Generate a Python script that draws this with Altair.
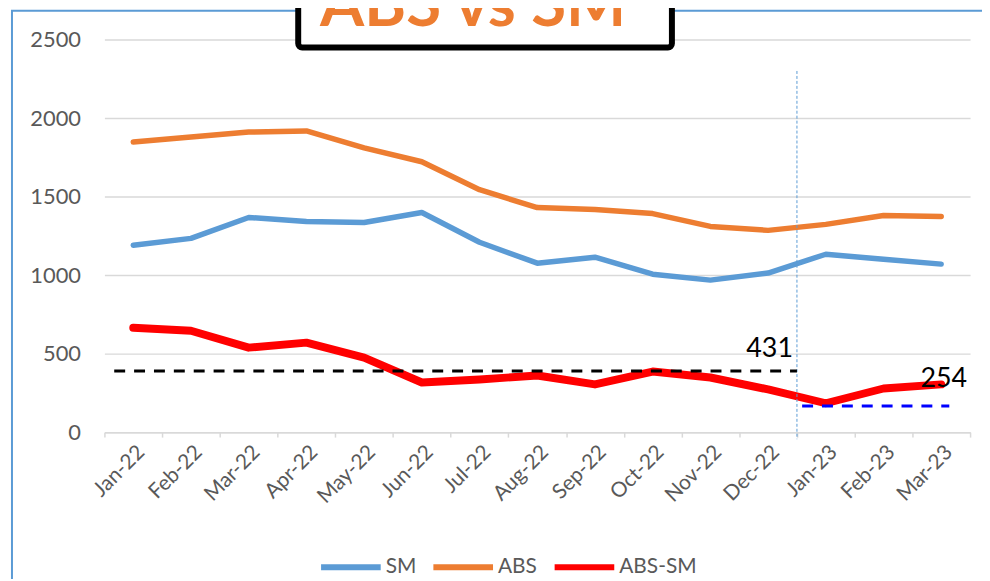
import altair as alt
import pandas as pd

months = ["Jan-22", "Feb-22", "Mar-22", "Apr-22", "May-22", "Jun-22", "Jul-22",
          "Aug-22", "Sep-22", "Oct-22", "Nov-22", "Dec-22", "Jan-23", "Feb-23", "Mar-23"]
sm = [1190, 1234, 1367, 1342, 1335, 1399, 1209, 1076, 1114, 1006, 968, 1013, 1133, 1101, 1070]
abs_ = [1848, 1880, 1911, 1918, 1810, 1722, 1544, 1430, 1418, 1392, 1310, 1285, 1323, 1380, 1373]
diff = [665, 646, 538, 570, 475, 316, 335, 361, 304, 386, 348, 272, 184, 278, 304]
series_names = ["SM", "ABS", "ABS-SM"]
series_colors = ["#5B9BD5", "#ED7D31", "#FF0000"]

avg_2022_label = "431"
avg_2022_level = 390
avg_2023_label = "254"
avg_2023_level = 166

rows = []
for name, vals in zip(series_names, [sm, abs_, diff]):
    for m, v in zip(months, vals):
        rows.append({"month": m, "series": name, "value": v})
df = pd.DataFrame(rows)

FONT = "Lato"
GRAY = "#595959"

xscale = alt.Scale(domain=months, paddingInner=0, paddingOuter=0)
yscale = alt.Scale(domain=[0, 2500])
cscale = alt.Scale(domain=series_names, range=series_colors)

base = alt.Chart(df)

legend = alt.Legend(
    title=None, orient="none", direction="horizontal", legendX=215, legendY=498,
    symbolType="stroke", symbolSize=3600, symbolStrokeWidth=6,
    labelFont=FONT, labelFontSize=21, labelColor=GRAY, labelOffset=2,
    columnPadding=5, padding=0,
)

xaxis = alt.Axis(title=None, labelAngle=315, labelFont=FONT, labelFontSize=21,
                 labelColor=GRAY, tickBand="extent", domainColor="#D9D9D9",
                 tickColor="#D9D9D9", tickSize=5, domainWidth=1.5, tickWidth=1.5,
                 labelPadding=4, grid=False)
yaxis = alt.Axis(title=None, values=[0, 500, 1000, 1500, 2000, 2500], format="d",
                 labelFont=FONT, labelFontSize=22, labelColor=GRAY, ticks=False,
                 domain=False, labelPadding=24, gridColor="#D9D9D9", gridWidth=1.5)

lines = []
for name, w in zip(series_names, [5.5, 5.5, 8]):
    lines.append(
        base.transform_filter(alt.datum.series == name)
        .mark_line(strokeWidth=w, strokeCap="round", strokeJoin="round")
        .encode(
            x=alt.X("month:N", sort=months, scale=xscale, axis=xaxis),
            y=alt.Y("value:Q", scale=yscale, axis=yaxis),
            color=alt.Color("series:N", scale=cscale, legend=legend, sort=series_names),
        )
    )

ref = pd.DataFrame({
    "start": ["Jan-22", "Jan-23"], "end": ["Jan-23", "Mar-23"],
    "level": [avg_2022_level, avg_2023_level], "label": [avg_2022_label, avg_2023_label],
})

black_dash = alt.Chart(ref.iloc[[0]]).mark_rule(color="black", strokeWidth=3, strokeDash=[11, 9]).encode(
    x=alt.X("start:N", scale=xscale, bandPosition=0.17),
    x2=alt.X2("end:N", bandPosition=0),
    y=alt.Y("level:Q", scale=yscale),
)
blue_dash = alt.Chart(ref.iloc[[1]]).mark_rule(color="#0000FF", strokeWidth=3, strokeDash=[11, 9]).encode(
    x=alt.X("start:N", scale=xscale, bandPosition=0.09),
    x2=alt.X2("end:N", bandPosition=0.64),
    y=alt.Y("level:Q", scale=yscale),
)

divider = alt.Chart(pd.DataFrame({"m": ["Jan-23"], "top": [2300], "bot": [-45]})).mark_rule(
    color="#5B9BD5", strokeWidth=1, strokeDash=[3, 2]
).encode(
    x=alt.X("m:N", scale=xscale, bandPosition=0),
    y=alt.Y("top:Q", scale=yscale),
    y2="bot:Q",
)

lbl1 = alt.Chart(ref.iloc[[0]]).mark_text(font=FONT, fontSize=27, color="black", align="right",
                                          baseline="alphabetic", dx=-4, dy=-14).encode(
    x=alt.X("end:N", scale=xscale, bandPosition=0),
    y=alt.Y("level:Q", scale=yscale),
    text="label:N",
)
lbl2 = alt.Chart(ref.iloc[[1]]).mark_text(font=FONT, fontSize=27, color="black", align="right",
                                          baseline="alphabetic", dy=-19).encode(
    x=alt.X("end:N", scale=xscale, bandPosition=0.95),
    y=alt.Y("level:Q", scale=yscale),
    text="label:N",
)

deco = alt.Chart(pd.DataFrame({"a": [0]}))
outer = deco.mark_rect(fill=None, stroke="#5B9BD5", strokeWidth=2).encode(
    x=alt.value(-93), x2=alt.value(900), y=alt.value(-29), y2=alt.value(560))
title_box = deco.mark_rect(fill="white", stroke="black", strokeWidth=6, cornerRadius=4).encode(
    x=alt.value(195), x2=alt.value(571), y=alt.value(-60), y2=alt.value(8))
title_text = deco.mark_text(text="ABS vs SM", font=FONT, fontSize=64, fontWeight="bold",
                            color="#ED7D31", align="center", baseline="alphabetic").encode(
    x=alt.value(371), y=alt.value(-14))

chart = alt.layer(outer, *lines, divider, black_dash, blue_dash, lbl1, lbl2, title_box, title_text).properties(
    width=871, height=395,
    padding={"left": 97, "top": 30, "right": 12, "bottom": 146},
    autosize=alt.AutoSizeParams(type="none"),
    background="white",
).configure_view(stroke=None)

chart.save("out.html", embed_options={"renderer": "svg", "actions": False})
